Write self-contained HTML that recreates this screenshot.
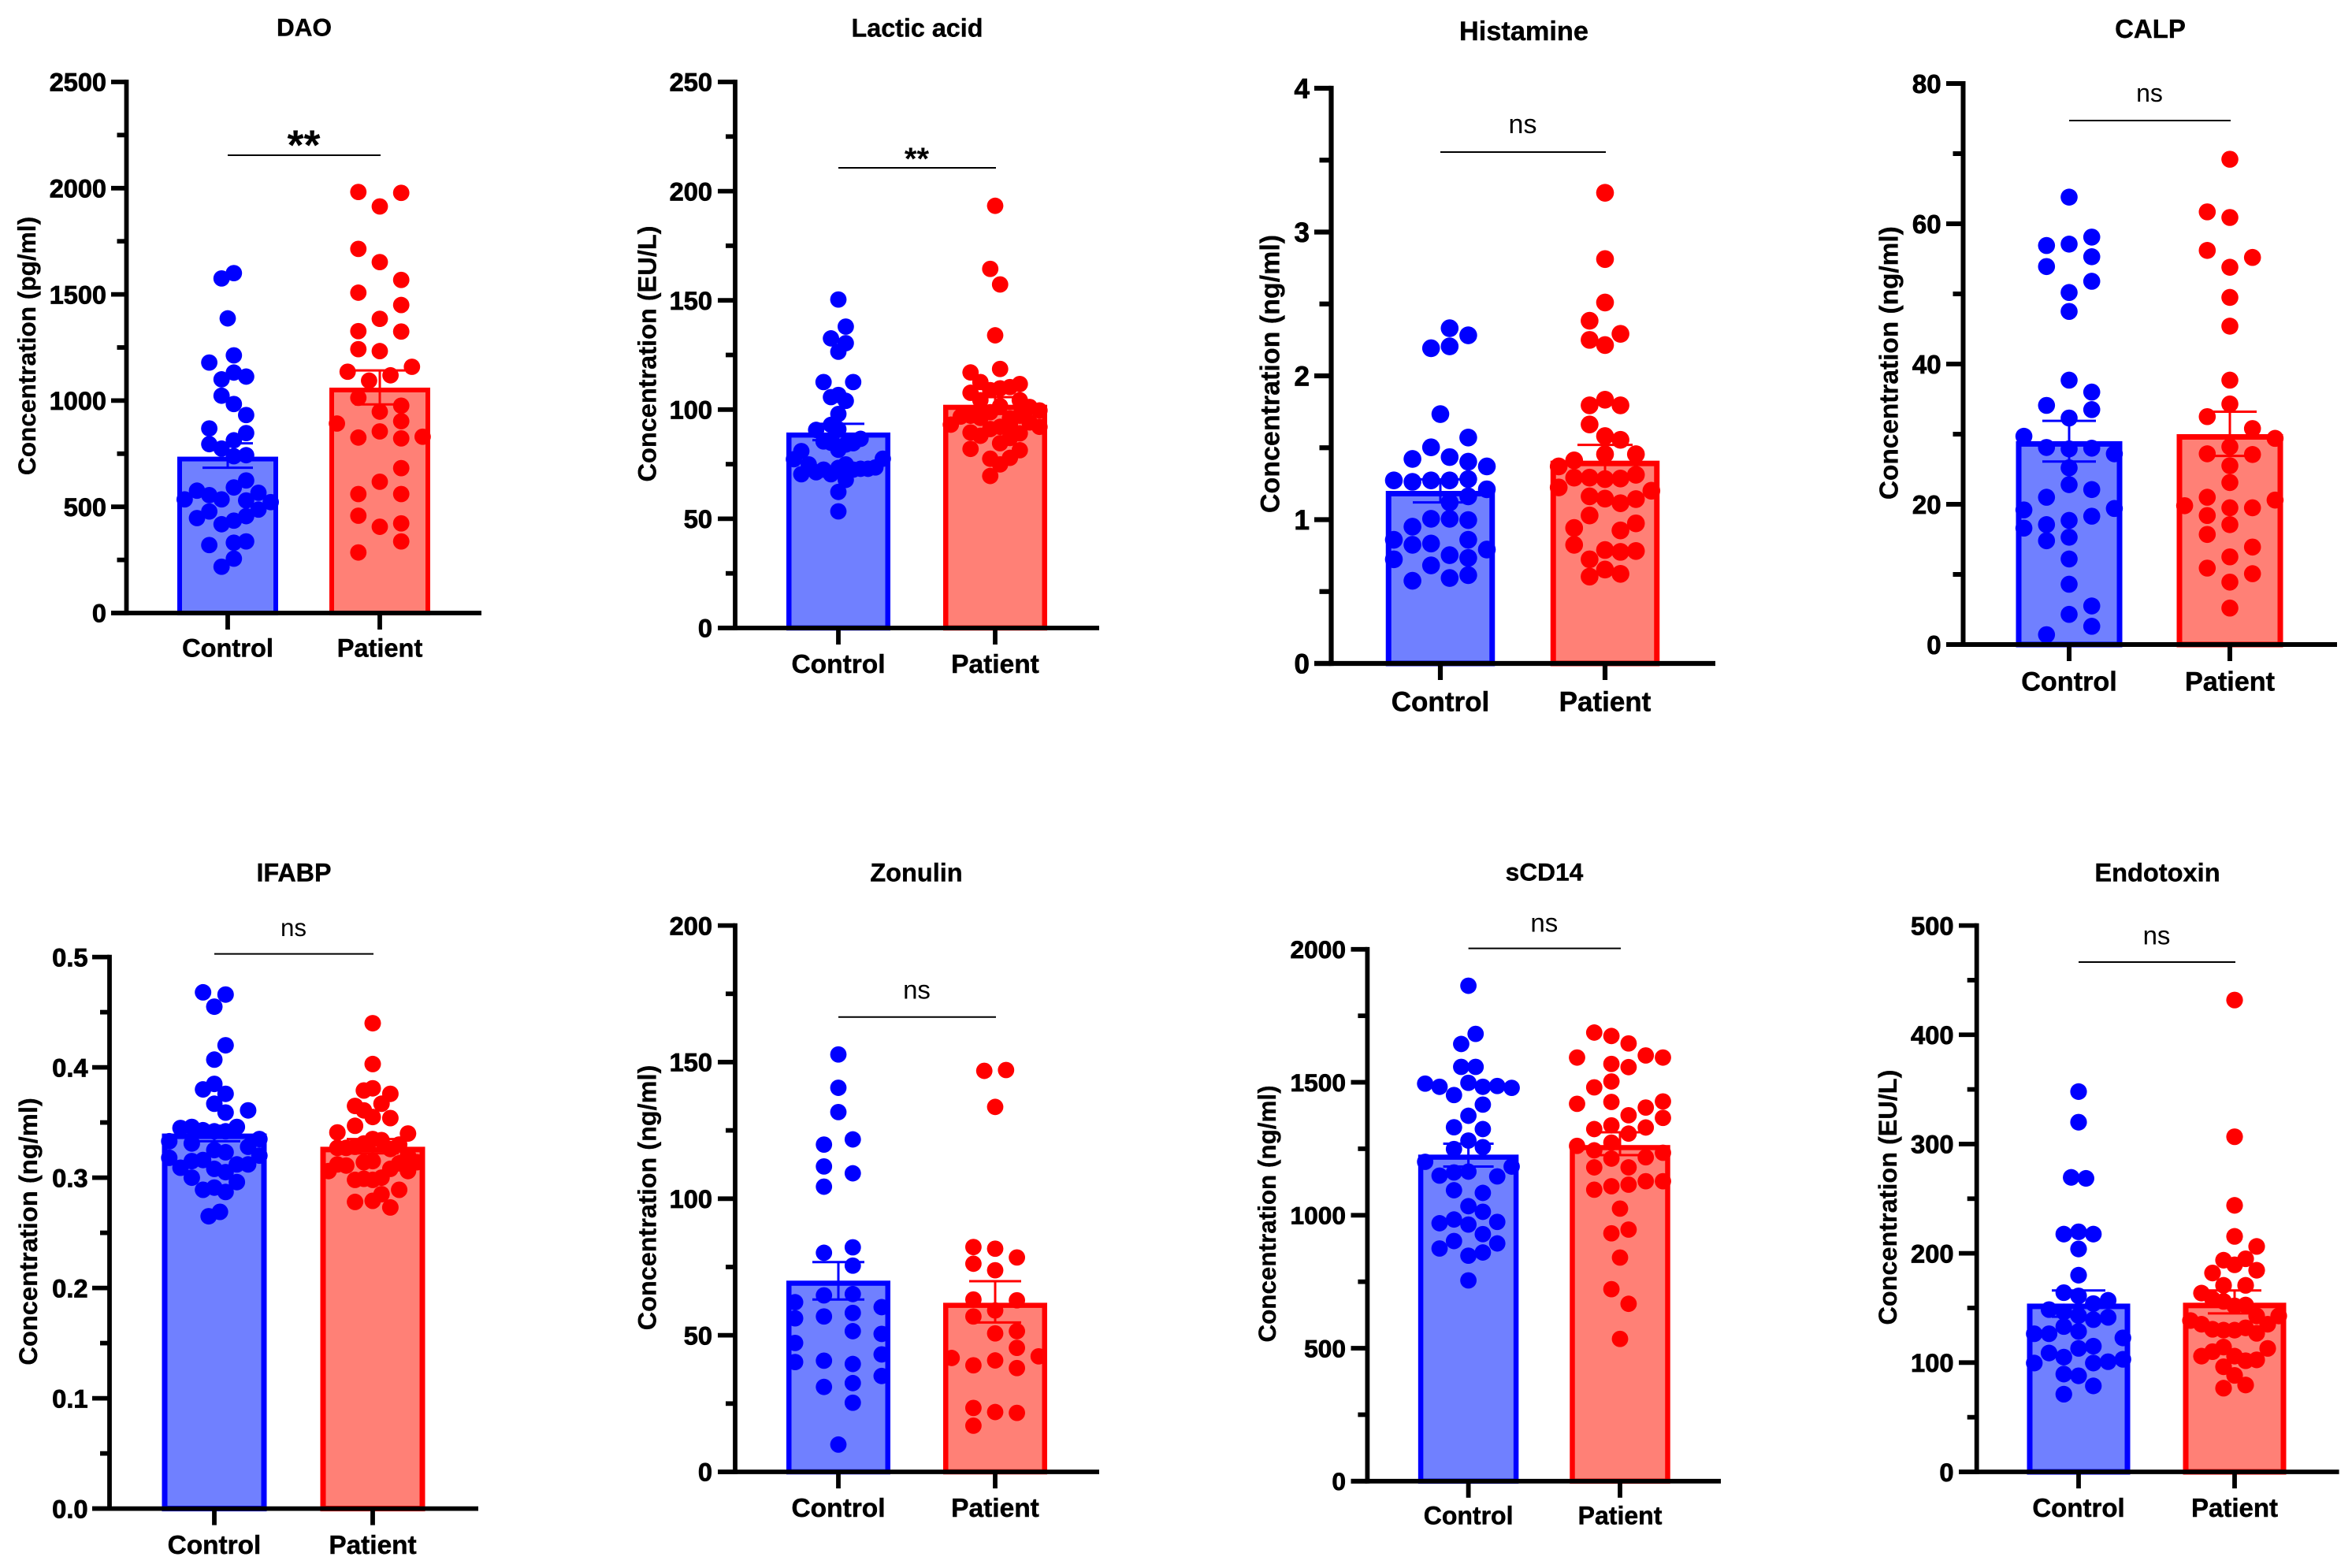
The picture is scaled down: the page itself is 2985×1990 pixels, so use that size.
<!DOCTYPE html>
<html lang="en">
<head>
<meta charset="utf-8">
<title>Gut permeability markers: Control vs Patient</title>
<style>
html,body{margin:0;padding:0;background:#fff;}
svg{display:block;}
text{font-family:"Liberation Sans",Arial,sans-serif;fill:#000;}
</style>
</head>
<body>
<svg id="figure" xmlns="http://www.w3.org/2000/svg" width="2985" height="1990" viewBox="0 0 2985 1990"></svg>
<script>
const categories = ['Control', 'Patient'];

const daoTickLabels = ['0', '500', '1000', '1500', '2000', '2500'];
const daoMeans = [736, 1061];
const daoUpper = [799, 1142];
const daoLower = [684, 982];
const daoControlValues = [1600,1575,1387,1179,1213,1100,1132,1113,1023,984,932,869,847,795,813,774,738,743,624,591,576,555,535,535,530,566,522,487,478,447,456,435,418,320,331,337,256,218];
const daoControlSlots = [1,-1,0,-3,1,-1,1,3,-1,1,3,-3,3,-3,1,-1,1,3,3,1,-5,-3,-1,-7,3,5,7,5,-3,-5,3,1,-1,-3,1,3,1,-1];
const daoPatientValues = [1982,1978,1914,1714,1652,1568,1508,1450,1385,1327,1325,1242,1233,1159,1136,1119,1094,1013,976,948,903,892,855,826,822,830,682,618,560,560,458,422,406,337,285];
const daoPatientSlots = [-2,2,0,-2,0,2,-2,2,0,-2,2,-2,0,3,-3,1,-1,-2,2,0,2,-4,0,-2,2,4,2,0,-2,2,-2,2,0,2,-2];

const lacticTickLabels = ['0', '50', '100', '150', '200', '250'];
const lacticMeans = [89.5, 102.2];
const lacticUpper = [93.5, 105.7];
const lacticLower = [86, 98];
const lacticControlValues = [150.4,138,132.6,130.4,126.5,112.6,112.6,106.7,105.7,104,98,93,90.7,91,85.4,86.6,84.6,84,84.8,81.6,81,77.3,77.5,74.9,73.5,74.9,72.9,72.9,72.5,72.5,73.3,70.4,71.3,70.4,67.8,62.3,53.4];
const lacticControlSlots = [0,1,-1,1,0,-2,2,0,-1,1,0,-1,-3,0,-2,3,2,1,-1,0,-5,-6,6,-4,5,1,3,4,-2,2,0,-5,-3,-1,1,0,0];
const lacticPatientValues = [193.3,164.4,157.3,134,118.6,117,112.6,111.7,110.3,109.7,108.9,107.7,104.3,104.3,101.6,101.2,99.6,98.8,97.2,96,97.2,96.8,97.2,96.2,93.1,94.1,92.1,92.1,93.5,91.1,89.5,88,89.1,87,84.6,82,81.4,77.9,77.5,74.9,69.6];
const lacticPatientSlots = [0,-1,1,0,1,-5,-3,5,3,1,-1,-5,-3,5,1,7,9,-1,-3,3,5,-7,-5,-3,-9,7,9,1,3,-1,-5,-3,5,3,1,-5,5,3,-1,1,-1];

const histamineTickLabels = ['0', '1', '2', '3', '4'];
const histamineMeans = [1.2, 1.41];
const histamineUpper = [1.28, 1.52];
const histamineLower = [1.12, 1.3];
const histamineControlValues = [2.331,2.282,2.192,2.205,1.734,1.571,1.503,1.422,1.435,1.403,1.37,1.273,1.263,1.273,1.273,1.282,1.211,1.162,1.12,1.006,1.006,0.997,0.951,0.86,0.86,0.825,0.834,0.753,0.734,0.792,0.724,0.682,0.594,0.614,0.575];
const histamineControlSlots = [1,3,-1,1,0,3,-1,-3,1,3,5,-5,-3,-1,1,3,5,3,1,-1,1,3,-3,-5,3,-3,-1,1,3,5,-5,-1,1,3,-3];
const histaminePatientValues = [3.273,2.812,2.51,2.383,2.292,2.25,2.214,1.834,1.795,1.795,1.662,1.581,1.555,1.455,1.455,1.412,1.37,1.312,1.292,1.292,1.282,1.286,1.224,1.201,1.162,1.146,1.143,1.114,1.029,0.974,0.942,0.925,0.825,0.789,0.782,0.776,0.724,0.653,0.623,0.604];
const histaminePatientSlots = [0,0,0,-1,1,-1,0,0,-1,1,-1,0,1,0,2,-2,-3,2,-2,-1,0,1,-3,3,-1,0,2,1,-1,2,-2,1,-2,0,2,1,-1,0,1,-1];

const calpTickLabels = ['0', '20', '40', '60', '80'];
const calpMeans = [29, 30];
const calpUpper = [31.9, 33.2];
const calpLower = [26.1, 26.9];
const calpControlValues = [63.8,58.1,56.9,57.1,55.3,53.9,51.8,50.2,47.5,37.7,36,34.1,33.5,32.3,29.7,28.1,27.9,28,27.2,25.2,22.8,22.1,21,19.2,19.4,17.7,18.3,17.1,16.6,15.3,14.8,12.2,8.6,5.5,4.3,2.6,1.4];
const calpControlSlots = [0,1,-1,0,1,-1,1,0,0,0,1,-1,1,0,-2,-1,0,1,2,0,0,1,-1,-2,2,0,1,-1,-2,0,-1,0,0,1,0,1,-1];
const calpPatientValues = [69.2,61.7,60.9,56.2,55.2,53.8,49.5,45.4,37.7,34.3,32.5,30.8,29.4,28.2,27.2,27.1,25.5,23.1,21,20.6,19.8,19.5,19.5,18.4,17.1,15.7,13.9,12.5,10.9,10.1,8.9,5.2];
const calpPatientSlots = [0,-1,0,-1,1,0,0,0,0,0,-1,1,2,0,-1,1,0,0,-1,2,-2,0,1,-1,0,-1,1,0,-1,1,0,0];

const ifabpTickLabels = ['0.0', '0.1', '0.2', '0.3', '0.4', '0.5'];
const ifabpMeans = [0.34, 0.328];
const ifabpUpper = [0.347, 0.335];
const ifabpLower = [0.333, 0.322];
const ifabpControlValues = [0.468,0.466,0.455,0.42,0.407,0.385,0.38,0.376,0.367,0.359,0.361,0.345,0.346,0.343,0.342,0.342,0.346,0.335,0.333,0.331,0.328,0.325,0.323,0.32,0.316,0.315,0.318,0.312,0.312,0.309,0.308,0.305,0.3,0.296,0.291,0.289,0.287,0.269,0.265];
const ifabpControlSlots = [-2,2,0,2,0,0,-2,2,0,2,6,-6,-4,-2,0,2,4,8,-8,-4,6,0,2,8,-2,-4,-8,6,4,-6,0,2,-4,4,0,-2,2,1,-1];
const ifabpPatientValues = [0.44,0.403,0.381,0.379,0.376,0.367,0.365,0.361,0.355,0.354,0.347,0.341,0.34,0.335,0.334,0.331,0.33,0.328,0.327,0.327,0.326,0.32,0.314,0.315,0.312,0.311,0.314,0.313,0.306,0.308,0.306,0.3,0.298,0.299,0.298,0.289,0.285,0.278,0.279,0.273];
const ifabpPatientSlots = [0,0,0,-1,2,1,-2,-1,0,2,-2,-4,4,0,1,-1,3,-2,-3,-4,2,4,-1,0,-4,-3,5,3,-5,2,4,1,-2,-1,0,3,1,-2,0,2];

const zonulinTickLabels = ['0', '50', '100', '150', '200'];
const zonulinMeans = [70, 61.9];
const zonulinUpper = [76.8, 69.8];
const zonulinLower = [63.1, 54.7];
const zonulinControlValues = [152.8,140.6,131.7,121.7,119.8,111.8,109.3,104.4,82.2,80.2,75.5,64.6,65.1,62.1,60.3,58.2,56.9,56.2,51.5,50.5,47.2,43,40.7,40.2,39.5,35.1,32.5,31.1,25.3,10];
const zonulinControlSlots = [0,0,0,1,-1,-1,1,-1,1,-1,1,-1,1,-3,3,1,-1,-3,1,3,-3,3,-1,-3,1,3,1,-1,1,0];
const zonulinPatientValues = [146.8,147.1,133.6,82.3,81.7,78.5,76.2,73.8,63.1,62.8,59.1,56.9,50.7,51.5,45.4,41.7,42.3,40.8,39,38,23.4,21.9,21.6,16.9];
const zonulinPatientSlots = [-1,1,0,-2,0,2,-2,0,-2,2,0,-2,0,2,2,-4,4,0,-2,2,-2,0,2,-2];

const scd14TickLabels = ['0', '500', '1000', '1500', '2000'];
const scd14Means = [1228, 1264];
const scd14Upper = [1269, 1312];
const scd14Lower = [1183, 1226];
const scd14ControlValues = [1863,1682,1644,1558,1558,1495,1498,1483,1483,1486,1479,1452,1416,1374,1331,1324,1281,1249,1256,1201,1183,1164,1161,1149,1146,1094,1084,1034,1013,984,970,975,965,929,903,894,875,860,848,755];
const scd14ControlSlots = [0,1,-1,-1,1,-6,0,-4,2,4,6,-2,2,0,-2,2,0,-2,2,-6,6,0,-2,-4,4,-2,2,0,2,-2,-4,4,0,2,-2,4,-4,2,0,0];
const scd14PatientValues = [1687,1674,1646,1593,1601,1593,1569,1557,1503,1481,1426,1428,1419,1405,1376,1366,1330,1324,1338,1307,1273,1261,1244,1235,1218,1213,1180,1180,1128,1128,1115,1109,1096,1025,946,932,841,722,667,535];
const scd14PatientSlots = [-3,-1,1,-5,3,5,-1,1,-1,-3,-1,5,-5,3,1,5,3,-3,-1,1,-1,-5,-3,5,3,-1,1,-3,3,5,1,-1,-3,0,1,-1,0,-1,1,0];

const endotoxinTickLabels = ['0', '100', '200', '300', '400', '500'];
const endotoxinMeans = [154, 154.8];
const endotoxinUpper = [166, 166];
const endotoxinLower = [142, 145];
const endotoxinControlValues = [348,320,269.5,268.6,217.6,219.7,217.6,204,180,164,161,157,154,148.5,146.4,143,141.4,139.3,133,128.5,126.4,126.4,122.6,115,113,108.8,105,99.6,103,99.6,100.8,89.5,87.9,78.7,71.1];
const endotoxinControlSlots = [0,0,-1,1,-2,0,2,0,0,-2,0,4,2,-4,-2,0,4,2,-2,0,-6,-4,6,2,0,-4,-2,-6,6,2,4,-2,0,2,-2];
const endotoxinPatientValues = [431.8,306.7,243.9,215.5,206.3,193.7,195,189.5,182,184.5,170.7,170.7,163.6,158.2,156,151.9,152.7,142.7,142.7,138.5,135.1,135.1,130.5,129.7,129.7,131.8,126.8,113,114.2,110,105.9,105.9,101.7,102.5,96.2,88.3,79.5,76.6];
const endotoxinPatientSlots = [0,0,0,0,2,-1,1,0,-2,2,-1,1,-3,-2,-1,0,1,2,4,-4,-3,3,-2,-1,0,1,2,3,-1,-2,-3,0,1,2,-1,0,1,-1];

const SVG_NS = 'http://www.w3.org/2000/svg';
const figure = document.getElementById('figure');
const seriesStroke = ['#0000ff', '#ff0000'];
const seriesFill = ['#7080ff', '#ff8076'];

function make(tag, attrs, parent, content) {
  const el = document.createElementNS(SVG_NS, tag);
  for (const key in attrs) el.setAttribute(key, attrs[key]);
  if (content !== undefined) el.textContent = content;
  parent.appendChild(el);
  return el;
}

function drawPanel(key, d, g) {
  const yScale = v => g.base - (v / d.max) * (g.base - g.top);
  const xScale = i => g.cx0 + i * g.gap;

  const panel = make('g', {}, figure);
  
  

  const title = make('text', {x: g.titleX, y: g.titleY + 0.36 * g.titleFs, 'text-anchor': 'middle', 'font-weight': 700, 'font-size': g.titleFs, stroke: '#000', 'stroke-width': 0.4}, panel, d.title);
  
  

  const yTitle = make('text', {transform: 'translate(' + g.yTitleX + ',' + g.yTitleY + ') rotate(-90)', 'text-anchor': 'middle', 'font-weight': 700, 'font-size': g.yTitleFs, stroke: '#000', 'stroke-width': 0.3}, panel, d.yTitle);
  
  

  categories.forEach((cat, i) => {
    const cx = xScale(i);
    const yTop = yScale(d.means[i]);
    const bar = make('rect', {x: cx - g.barW / 2 + g.border / 2, y: yTop + g.border / 2, width: g.barW - g.border, height: g.base - yTop - g.border / 2, fill: seriesFill[i], stroke: seriesStroke[i], 'stroke-width': g.border}, panel);
    
    

    const yUp = yScale(d.upper[i]);
    const yLow = yScale(d.lower[i]);
    const err = make('path', {d: 'M' + cx + ' ' + yUp + 'V' + yLow + 'M' + (cx - g.cap) + ' ' + yUp + 'H' + (cx + g.cap) + 'M' + (cx - g.cap) + ' ' + yLow + 'H' + (cx + g.cap), fill: 'none', stroke: seriesStroke[i], 'stroke-width': 3}, panel);
    
    
  });

  categories.forEach((cat, i) => {
    const cx = xScale(i);
    d.values[i].forEach((v, n) => {
      const dot = make('circle', {cx: cx + d.slots[i][n] * g.steps[i], cy: yScale(v), r: g.r, fill: seriesStroke[i]}, panel);
      
      
    });
  });

  const yAxis = make('line', {x1: g.axisX, x2: g.axisX, y1: g.top - g.axisW / 2, y2: g.base + g.axisW / 2, stroke: '#000', 'stroke-width': g.axisW}, panel);
  
  

  const xAxis = make('line', {x1: g.tickLeft, x2: g.right, y1: g.base, y2: g.base, stroke: '#000', 'stroke-width': g.axisW}, panel);
  
  

  d.ticks.forEach((label, i) => {
    const v = parseFloat(label);
    const major = make('line', {x1: g.tickLeft, x2: g.axisX, y1: yScale(v), y2: yScale(v), stroke: '#000', 'stroke-width': g.axisW}, panel);
    
    

    const text = make('text', {x: g.tickEnd, y: yScale(v) + 0.36 * g.tickFs, 'text-anchor': 'end', 'font-weight': 700, 'font-size': g.tickFs, stroke: '#000', 'stroke-width': 0.8}, panel, label);
    
    

    if (i < d.ticks.length - 1) {
      const mid = (v + parseFloat(d.ticks[i + 1])) / 2;
      const minor = make('line', {x1: g.axisX - g.minorLen, x2: g.axisX, y1: yScale(mid), y2: yScale(mid), stroke: '#000', 'stroke-width': g.axisW}, panel);
      
      
    }
  });

  categories.forEach((cat, i) => {
    const cx = xScale(i);
    const tick = make('line', {x1: cx, x2: cx, y1: g.base, y2: g.base + 21, stroke: '#000', 'stroke-width': g.axisW}, panel);
    
    

    const label = make('text', {x: cx, y: g.labelY + 0.36 * g.xFs, 'text-anchor': 'middle', 'font-weight': 700, 'font-size': g.xFs, stroke: '#000', 'stroke-width': 0.5}, panel, cat);
    
    
  });

  const bracket = make('line', {x1: xScale(0), x2: xScale(1) + 1, y1: g.brY, y2: g.brY, stroke: '#000', 'stroke-width': 2}, panel);
  
  

  const isStars = d.sig === '**';
  const sigBase = isStars ? g.sigY + 0.58 * g.sigFs : g.sigY + 0.26 * g.sigFs;
  const sig = make('text', {x: (xScale(0) + xScale(1)) / 2, y: sigBase, 'text-anchor': 'middle', 'font-weight': isStars ? 700 : 400, 'font-size': g.sigFs}, panel, d.sig);
  
  
}

drawPanel('dao', {title: 'DAO', yTitle: 'Concentration (pg/ml)', max: 2500, sig: '**', ticks: daoTickLabels, means: daoMeans, upper: daoUpper, lower: daoLower, values: [daoControlValues, daoPatientValues], slots: [daoControlSlots, daoPatientSlots]},
  {axisX: 160.5, top: 104, base: 778, right: 611, tickLeft: 141, minorLen: 12, axisW: 5.8, cx0: 289, gap: 193, barW: 128, border: 6, cap: 32, r: 10.4, steps: [7.8, 13.6], titleX: 386, titleY: 34, titleFs: 31.5, yTitleX: 45, yTitleY: 439, yTitleFs: 31.6, tickEnd: 135, tickFs: 32.5, xFs: 32.6, labelY: 822, brY: 197, sigY: 171, sigFs: 54});

drawPanel('lactic-acid', {title: 'Lactic acid', yTitle: 'Concentration (EU/L)', max: 250, sig: '**', ticks: lacticTickLabels, means: lacticMeans, upper: lacticUpper, lower: lacticLower, values: [lacticControlValues, lacticPatientValues], slots: [lacticControlSlots, lacticPatientSlots]},
  {axisX: 933, top: 104, base: 797, right: 1395, tickLeft: 911, minorLen: 12, axisW: 5.8, cx0: 1064, gap: 199, barW: 132, border: 6.5, cap: 33, r: 10.4, steps: [9.4, 6.25], titleX: 1164, titleY: 35, titleFs: 32.3, yTitleX: 832.7, yTitleY: 449, yTitleFs: 32.5, tickEnd: 904, tickFs: 32.6, xFs: 33.5, labelY: 842, brY: 213, sigY: 192, sigFs: 40});

drawPanel('histamine', {title: 'Histamine', yTitle: 'Concentration (ng/ml)', max: 4, sig: 'ns', ticks: histamineTickLabels, means: histamineMeans, upper: histamineUpper, lower: histamineLower, values: [histamineControlValues, histaminePatientValues], slots: [histamineControlSlots, histaminePatientSlots]},
  {axisX: 1689.5, top: 112, base: 842, right: 2177, tickLeft: 1668, minorLen: 15, axisW: 6.2, cx0: 1828, gap: 209, barW: 138.5, border: 7, cap: 35, r: 11.3, steps: [11.8, 19.6], titleX: 1934, titleY: 38.5, titleFs: 34.3, yTitleX: 1623.4, yTitleY: 474.5, yTitleFs: 34, tickEnd: 1662, tickFs: 35, xFs: 35, labelY: 890, brY: 193, sigY: 160, sigFs: 34});

drawPanel('calp', {title: 'CALP', yTitle: 'Concentration (ng/ml)', max: 80, sig: 'ns', ticks: calpTickLabels, means: calpMeans, upper: calpUpper, lower: calpLower, values: [calpControlValues, calpPatientValues], slots: [calpControlSlots, calpPatientSlots]},
  {axisX: 2491.5, top: 106, base: 818, right: 2966, tickLeft: 2470, minorLen: 13, axisW: 6, cx0: 2626, gap: 204, barW: 135, border: 7, cap: 34, r: 10.8, steps: [28.7, 28.7], titleX: 2729, titleY: 36, titleFs: 33, yTitleX: 2408.6, yTitleY: 460.7, yTitleFs: 33.4, tickEnd: 2463.6, tickFs: 33, xFs: 34.2, labelY: 864, brY: 153, sigY: 120.5, sigFs: 32});

drawPanel('ifabp', {title: 'IFABP', yTitle: 'Concentration (ng/ml)', max: 0.5, sig: 'ns', ticks: ifabpTickLabels, means: ifabpMeans, upper: ifabpUpper, lower: ifabpLower, values: [ifabpControlValues, ifabpPatientValues], slots: [ifabpControlSlots, ifabpPatientSlots]},
  {axisX: 139, top: 1214.6, base: 1914.6, right: 607, tickLeft: 117, minorLen: 12, axisW: 5.8, cx0: 272, gap: 201, barW: 133, border: 7, cap: 33, r: 10.5, steps: [7.15, 11.2], titleX: 373, titleY: 1107, titleFs: 32.3, yTitleX: 47, yTitleY: 1563, yTitleFs: 32.7, tickEnd: 111.6, tickFs: 32.7, xFs: 33.4, labelY: 1960, brY: 1210.6, sigY: 1180, sigFs: 31.3});

drawPanel('zonulin', {title: 'Zonulin', yTitle: 'Concentration (ng/ml)', max: 200, sig: 'ns', ticks: zonulinTickLabels, means: zonulinMeans, upper: zonulinUpper, lower: zonulinLower, values: [zonulinControlValues, zonulinPatientValues], slots: [zonulinControlSlots, zonulinPatientSlots]},
  {axisX: 933, top: 1174.6, base: 1868, right: 1395, tickLeft: 911, minorLen: 12, axisW: 5.8, cx0: 1064, gap: 199, barW: 132, border: 6.5, cap: 33, r: 10.4, steps: [18.3, 13.8], titleX: 1163, titleY: 1107, titleFs: 32.5, yTitleX: 832.7, yTitleY: 1520, yTitleFs: 32.4, tickEnd: 904, tickFs: 32.6, xFs: 33.5, labelY: 1913, brY: 1290.7, sigY: 1259, sigFs: 33});

drawPanel('scd14', {title: 'sCD14', yTitle: 'Concentration (ng/ml)', max: 2000, sig: 'ns', ticks: scd14TickLabels, means: scd14Means, upper: scd14Upper, lower: scd14Lower, values: [scd14ControlValues, scd14PatientValues], slots: [scd14ControlSlots, scd14PatientSlots]},
  {axisX: 1735.4, top: 1204.8, base: 1879.8, right: 2184, tickLeft: 1714.5, minorLen: 12, axisW: 5.8, cx0: 1863.6, gap: 192.4, barW: 127.5, border: 6.5, cap: 32, r: 10.4, steps: [9.15, 10.9], titleX: 1960, titleY: 1106, titleFs: 31.7, yTitleX: 1619, yTitleY: 1540.5, yTitleFs: 31.4, tickEnd: 1708, tickFs: 31.7, xFs: 32, labelY: 1923, brY: 1203.6, sigY: 1174, sigFs: 33});

drawPanel('endotoxin', {title: 'Endotoxin', yTitle: 'Concentration (EU/L)', max: 500, sig: 'ns', ticks: endotoxinTickLabels, means: endotoxinMeans, upper: endotoxinUpper, lower: endotoxinLower, values: [endotoxinControlValues, endotoxinPatientValues], slots: [endotoxinControlSlots, endotoxinPatientSlots]},
  {axisX: 2508.7, top: 1174.6, base: 1868, right: 2968.6, tickLeft: 2486, minorLen: 12, axisW: 5.8, cx0: 2638, gap: 198, barW: 131, border: 7, cap: 34, r: 10.6, steps: [9.37, 14], titleX: 2738, titleY: 1107, titleFs: 32.6, yTitleX: 2407, yTitleY: 1519.6, yTitleFs: 32.4, tickEnd: 2479.6, tickFs: 32.7, xFs: 33, labelY: 1913, brY: 1221, sigY: 1190, sigFs: 33});
</script>
</body>
</html>
